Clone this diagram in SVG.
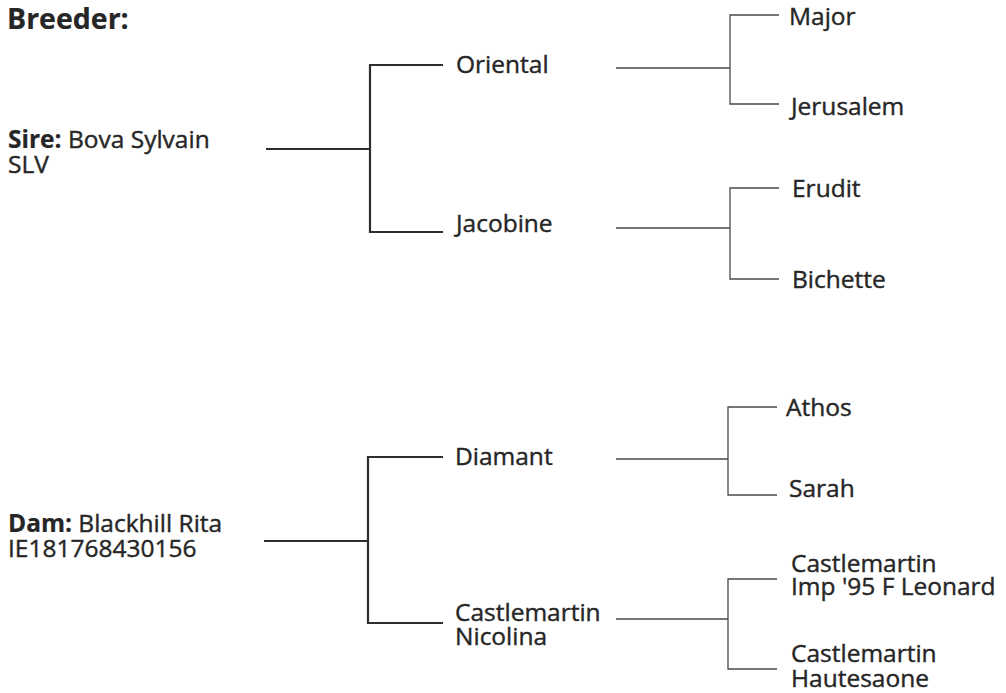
<svg xmlns="http://www.w3.org/2000/svg" width="1006" height="693" viewBox="0 0 1006 693">
<style>
text{font-family:"Open Sans","Noto Sans","Liberation Sans",sans-serif;font-size:24.5px;fill:#262626;stroke:#262626;stroke-width:0.4}
.b{font-weight:bold;stroke-width:0.2}
.h{font-size:28.5px;font-weight:bold;stroke-width:0.2}
.thick{stroke:#2e2e2e;stroke-width:2.2;fill:none}
.thin{stroke:#4a4a4a;stroke-width:1.3;fill:none}
</style>
<rect width="1006" height="693" fill="#ffffff"/>
<g id="connectors">
<path class="thick" d="M266 149H370M443 65H370V232H443"/>
<path class="thin" d="M616 68H730M779 15H730V104H779"/>
<path class="thin" d="M616 228H730M779 188H730V279H779"/>
<path class="thick" d="M264 541H368M443 457H368V623H443"/>
<path class="thin" d="M616 459H728M777 407H728V495H777"/>
<path class="thin" d="M616 619H728M777 579H728V669H777"/>
</g>
<g id="title"><text class="h" x="7" y="29">Breeder:</text></g>
<g id="sire"><text x="8" y="148"><tspan class="b">Sire:</tspan> Bova Sylvain<tspan x="8" y="173">SLV</tspan></text></g>
<g id="dam"><text x="8" y="532"><tspan class="b">Dam:</tspan> Blackhill Rita<tspan x="8" y="557">IE181768430156</tspan></text></g>
<g id="oriental"><text x="456" y="73">Oriental</text></g>
<g id="jacobine"><text x="456" y="232">Jacobine</text></g>
<g id="diamant"><text x="455" y="465">Diamant</text></g>
<g id="nicolina"><text x="455" y="621">Castlemartin<tspan x="455" y="645">Nicolina</tspan></text></g>
<g id="major"><text x="789" y="25">Major</text></g>
<g id="jerusalem"><text x="791" y="115">Jerusalem</text></g>
<g id="erudit"><text x="792" y="197">Erudit</text></g>
<g id="bichette"><text x="792" y="288">Bichette</text></g>
<g id="athos"><text x="786" y="416">Athos</text></g>
<g id="sarah"><text x="789" y="497">Sarah</text></g>
<g id="leonard"><text x="791" y="572">Castlemartin<tspan x="791" y="595">Imp '95 F Leonard</tspan></text></g>
<g id="hautesaone"><text x="791" y="662">Castlemartin<tspan x="791" y="687">Hautesaone</tspan></text></g>
</svg>
